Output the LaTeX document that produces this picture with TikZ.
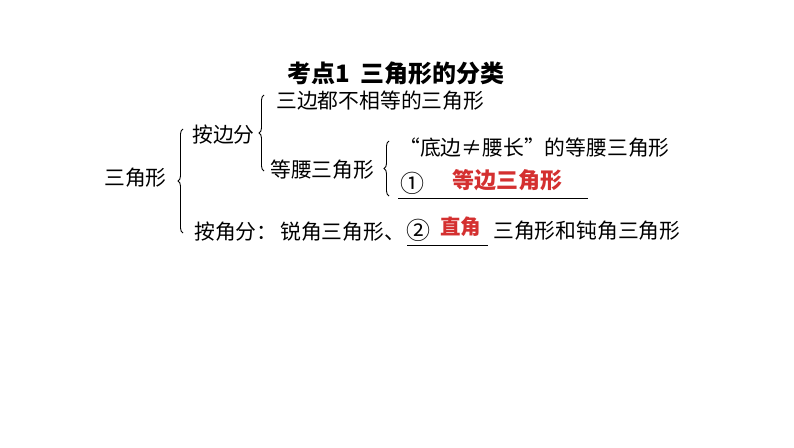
\documentclass[tikz,border=0pt]{standalone}
\usepackage{fontspec}
\newfontfamily\cjk{Noto Sans CJK SC}
\usetikzlibrary{decorations.pathreplacing}
\definecolor{ansred}{RGB}{212,48,48}
\tikzset{
	txt/.style={anchor=west, inner sep=0pt, font=\cjk\fontsize{20.8}{21}\selectfont},
	redtxt/.style={anchor=west, inner sep=0pt, text=ansred, font=\cjk\bfseries\fontsize{22}{22}\selectfont},
	numtxt/.style={anchor=west, inner sep=0pt, font=\cjk\fontsize{24}{24}\selectfont},
	titletxt/.style={inner sep=0pt, font=\cjk\bfseries\fontsize{24}{24}\selectfont},
	curly/.style={decorate, decoration={brace, amplitude=5pt}, line width=0.9pt},
	blank/.style={line width=0.9pt}
}
\begin{document}
\begin{tikzpicture}[x=1pt,y=-1pt]
		\useasboundingbox[fill=white] (0,0) rectangle (794,447);
		%Title
		\node [titletxt] (title) at (396,73) {考点1\ \ 三角形的分类};
		%Root
		\node [txt] (root) at (104,178) {三角形};
		%Big brace
		\coordinate (rootTop) at (183,129);
		\coordinate (rootBottom) at (183,233);
		\draw [curly] (rootBottom) -- (rootTop);
		%By sides
		\node [txt] (bySide) at (192,135) {按边分};
		\coordinate (sideTop) at (264,95);
		\coordinate (sideBottom) at (264,171);
		\draw [curly] (sideBottom) -- (sideTop);
		\node [txt] (scalene) at (276,101) {三边都不相等的三角形};
		\node [txt] (isosceles) at (270,170) {等腰三角形};
		%Isosceles brace
		\coordinate (isoTop) at (389,141);
		\coordinate (isoBottom) at (389,196);
		\draw [curly] (isoBottom) -- (isoTop);
		\node [txt] (notEqui) at (399,148) {“底边≠腰长”的等腰三角形};
		\node [numtxt] (blankOne) at (400,183) {①};
		\node [redtxt] (equi) at (452,180) {等边三角形};
		\coordinate (lineOneL) at (398,198);
		\coordinate (lineOneR) at (588,198);
		\draw [blank] (lineOneL) -- (lineOneR);
		%By angles
		\node [txt] (byAngle) at (194,232) {按角分：\hspace{3pt}锐角三角形、};
		\node [numtxt] (blankTwo) at (406,230) {②};
		\node [redtxt, font=\cjk\bfseries\fontsize{20.5}{21}\selectfont] (right) at (440,227) {直角};
		\coordinate (lineTwoL) at (407,245);
		\coordinate (lineTwoR) at (488,245);
		\draw [blank] (lineTwoL) -- (lineTwoR);
		\node [txt] (rest) at (493,231) {三角形和钝角三角形};
\end{tikzpicture}
\end{document}
